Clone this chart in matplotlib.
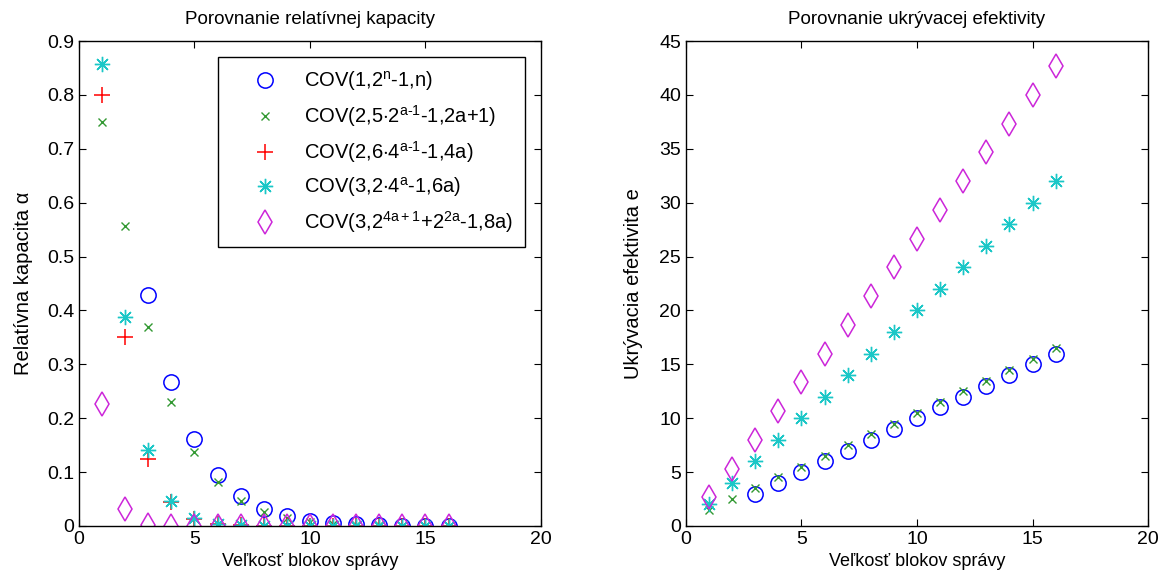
import matplotlib
matplotlib.use("Agg")
import matplotlib.pyplot as plt

plt.rcParams['font.family'] = ['Liberation Sans', 'DejaVu Sans']

# velkost blokov spravy
x_all = list(range(1, 17))
x_hamming = list(range(3, 17))

# relativna kapacita (odhad z obrazka)
cap_blue = [0.429, 0.267, 0.161, 0.095, 0.055, 0.031, 0.018, 0.0098,
            0.0054, 0.0029, 0.0016, 0.00085, 0.00046, 0.00024]
cap_green = [0.75, 0.556, 0.37, 0.23, 0.138, 0.081, 0.046, 0.026,
             0.015, 0.008, 0.0045, 0.0025, 0.0013, 0.0007, 0.0004, 0.0002]
cap_red = [0.8, 0.35, 0.125, 0.044, 0.013, 0.0041, 0.0012, 0.0004,
           0.0001, 0.0, 0.0, 0.0, 0.0, 0.0, 0.0, 0.0]
cap_cyan = [0.857, 0.387, 0.141, 0.047, 0.0147, 0.0044, 0.0013, 0.0004,
            0.0001, 0.0, 0.0, 0.0, 0.0, 0.0, 0.0, 0.0]
cap_magenta = [0.227, 0.032, 0.0015, 0.0001, 0.0, 0.0, 0.0, 0.0,
               0.0, 0.0, 0.0, 0.0, 0.0, 0.0, 0.0, 0.0]

# ukryvacia efektivita (odhad z obrazka), cervena seria tu nie je viditelna
eff_blue = [3, 4, 5, 6, 7, 8, 9, 10, 11, 12, 13, 14, 15, 16]
eff_green = [1.5, 2.5, 3.5, 4.5, 5.5, 6.5, 7.5, 8.5, 9.5, 10.5, 11.5,
             12.5, 13.5, 14.5, 15.5, 16.5]
eff_cyan = [2, 4, 6, 8, 10, 12, 14, 16, 18, 20, 22, 24, 26, 28, 30, 32]
eff_magenta = [2.67, 5.33, 8, 10.67, 13.33, 16, 18.67, 21.33, 24, 26.67,
               29.33, 32, 34.67, 37.33, 40, 42.67]

labels = [r'COV(1,2$^{\mathrm{n}}$-1,n)',
          r'COV(2,5$\cdot$2$^{\mathrm{a\text{-}1}}$-1,2a+1)',
          r'COV(2,6$\cdot$4$^{\mathrm{a\text{-}1}}$-1,4a)',
          r'COV(3,2$\cdot$4$^{\mathrm{a}}$-1,6a)',
          r'COV(3,2$^{\mathrm{4a+1}}$+2$^{\mathrm{2a}}$-1,8a)']

blue = (0, 0, 1)
green = (0.2, 0.6, 0.2)
red = (1, 0, 0)
cyan = (0.1, 0.78, 0.78)
magenta = (0.8, 0.15, 0.85)
star = (8, 2, 0)

plt.rcParams['mathtext.fontset'] = 'custom'
plt.rcParams['mathtext.rm'] = 'Liberation Sans'

fig = plt.figure(figsize=(11.73, 5.86), dpi=100)
ax1 = fig.add_axes([0.0673, 0.1024, 0.3939, 0.8276])
ax2 = fig.add_axes([0.5848, 0.1024, 0.3939, 0.8276])

def draw(ax, yb, yg, yr, yc, ym):
    ax.plot(x_hamming, yb, 'o', ls='none', mfc='none', mec=blue, ms=11, mew=1.1, label=labels[0])
    ax.plot(x_all, yg, 'x', ls='none', color=green, ms=6, mew=1.0, label=labels[1])
    if yr is not None:
        ax.plot(x_all, yr, '+', ls='none', color=red, ms=11, mew=1.1, label=labels[2])
    ax.plot(x_all, yc, marker=star, ls='none', color=cyan, ms=11, mew=1.0, label=labels[3])
    ax.plot(x_all, ym, 'd', ls='none', mfc='none', mec=magenta, ms=12.5, mew=1.1, label=labels[4])
    ax.set_xlim(0, 20)
    ax.set_xticks([0, 5, 10, 15, 20])
    ax.tick_params(direction='in', top=True, right=True, labelsize=14, length=5)
    for s in ax.spines.values():
        s.set_linewidth(1.0)
    ax.set_xlabel('Veľkosť blokov správy', fontsize=13, labelpad=4)

draw(ax1, cap_blue, cap_green, cap_red, cap_cyan, cap_magenta)
ax1.set_ylim(0, 0.9)
ax1.set_yticks([0, 0.1, 0.2, 0.3, 0.4, 0.5, 0.6, 0.7, 0.8, 0.9])
ax1.set_yticklabels(['0', '0.1', '0.2', '0.3', '0.4', '0.5', '0.6', '0.7', '0.8', '0.9'])
ax1.set_ylabel('Relatívna kapacita α', fontsize=14.5, labelpad=10)
ax1.set_title('Porovnanie relatívnej kapacity', fontsize=13.5, pad=12)
leg = ax1.legend(loc='upper right', bbox_to_anchor=(0.965, 0.967), fontsize=14.5,
                 frameon=True, fancybox=False, edgecolor='black', framealpha=1,
                 handletextpad=0.25, labelspacing=0.5, borderpad=0.6, handlelength=3.4,
                 borderaxespad=0)
leg.get_frame().set_linewidth(1.0)

draw(ax2, eff_blue, eff_green, None, eff_cyan, eff_magenta)
ax2.set_ylim(0, 45)
ax2.set_yticks([0, 5, 10, 15, 20, 25, 30, 35, 40, 45])
ax2.set_ylabel('Ukrývacia efektivita e', fontsize=14.5, labelpad=12)
ax2.set_title('Porovnanie ukrývacej efektivity', fontsize=13.5, pad=12)

fig.savefig('out.png', dpi=100)
